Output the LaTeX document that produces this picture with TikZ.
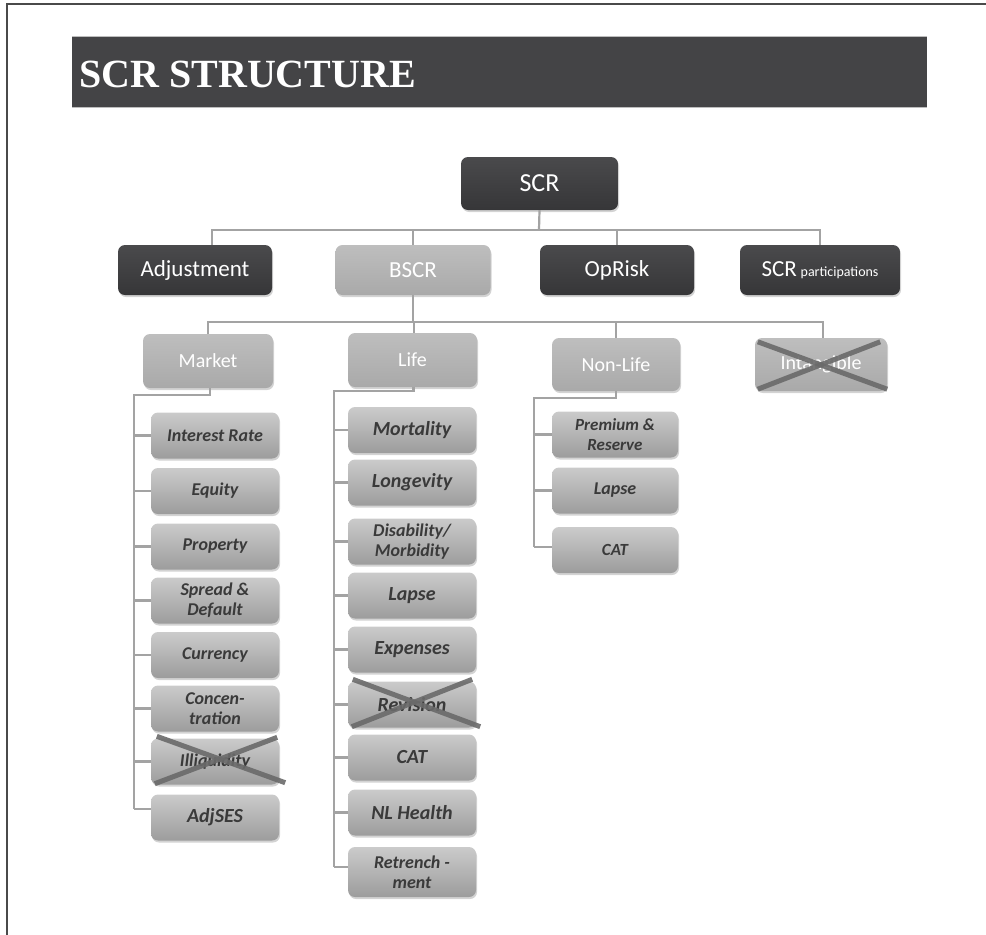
\documentclass[tikz,border=0pt]{standalone}
\usepackage{fontspec}
\setmainfont{Carlito}
\newfontfamily\hdrfont{Liberation Serif}
\usetikzlibrary{shadows}
\definecolor{framec}{HTML}{4A4A4A}
\definecolor{hdrc}{HTML}{444446}
\definecolor{hdredge}{HTML}{BDBDBD}
\definecolor{conc}{HTML}{A3A3A3}
\definecolor{crossc}{HTML}{6A6A6A}
\definecolor{darktop}{HTML}{4A4A4C}
\definecolor{darkbot}{HTML}{363638}
\definecolor{ltop}{HTML}{BEBEBE}
\definecolor{lbot}{HTML}{A9A9A9}
\definecolor{ctop}{HTML}{CBCBCB}
\definecolor{cbot}{HTML}{9C9C9C}
\definecolor{ctext}{HTML}{3A3A3A}
\begin{document}
\begin{tikzpicture}[x=1pt,y=-1pt,
  base/.style={rounded corners=7pt, inner sep=0pt, align=center,
    drop shadow={opacity=0.35, shadow xshift=1pt, shadow yshift=-2pt}},
  dbox/.style={base, top color=darktop, bottom color=darkbot, text=white,
    minimum width=155pt, minimum height=50pt, font=\fontsize{23}{26}\selectfont},
  bbox/.style={base, top color=ltop, bottom color=lbot, text=white,
    minimum width=155pt, minimum height=50pt, font=\fontsize{23}{26}\selectfont},
  lbox/.style={base, top color=ltop, bottom color=lbot, text=white,
    minimum width=130pt, minimum height=54pt, font=\fontsize{20}{22}\selectfont},
  cbox/.style={base, top color=ctop, bottom color=cbot, text=ctext,
    minimum width=128pt, minimum height=46pt, font=\bfseries\itshape\fontsize{18}{20}\selectfont},
  cboxl/.style={cbox, font=\bfseries\itshape\fontsize{20}{21}\selectfont},
  conn/.style={draw=conc, line width=2.2pt},
  xcross/.style={draw=crossc, line width=5pt, opacity=0.9}
]
\useasboundingbox (0,0) rectangle (986,935);
% frame
\draw[framec, line width=2pt] (6.5,935) -- (6.5,4) -- (986,4);
% header
\fill[hdrc] (72,36) rectangle (927,107);
\draw[hdredge, line width=1pt] (72,36) -- (927,36);
\draw[hdredge, line width=1pt] (72,107) -- (927,107);
\node[anchor=base west, inner sep=0pt, text=white,
  font=\hdrfont\bfseries\fontsize{40}{42}\selectfont] (title) at (79,87) {SCR STRUCTURE};

% level 1
\node[dbox, minimum width=157pt, minimum height=53pt, font=\fontsize{26}{28}\selectfont] (scr) at (539.5,183.5) {SCR};
% level 2
\node[dbox, minimum width=154pt] (adj) at (195,270) {Adjustment};
\node[bbox] (bscr) at (413,270) {BSCR};
\node[dbox, minimum width=154pt] (oprisk) at (617,270) {OpRisk};
\node[dbox, minimum width=160pt] (part) at (820,270) {SCR\,{\fontsize{14}{14}\selectfont participations}};
% level 3
\node[lbox] (market) at (208,361) {Market};
\node[lbox, minimum width=129pt] (life) at (412.5,360) {Life};
\node[lbox, minimum width=128pt, minimum height=53pt] (nonlife) at (616,364.5) {Non-Life};
\node[lbox, minimum width=132pt, minimum height=53pt] (intang) at (821,364.5) {Intangible};

% market children
\node[cbox] (ir)   at (215,435.5) {Interest Rate};
\node[cbox] (eq)   at (215,491)   {Equity};
\node[cbox] (prop) at (215,546.5) {Property};
\node[cbox] (spr)  at (215,600.5) {Spread \&\\Default};
\node[cbox] (cur)  at (215,655)   {Currency};
\node[cbox] (conc) at (215,708.5) {Concen-\\tration};
\node[cbox] (ill)  at (215,761.5) {Illiquidity};
\node[cbox, font=\bfseries\itshape\fontsize{20}{21}\selectfont] (adjses) at (215,817.5) {AdjSES};

% life children
\node[cboxl] (mort) at (412,430)   {Mortality};
\node[cboxl] (long) at (412,482.5) {Longevity};
\node[cbox]  (dis)  at (412,541.5) {Disability/\\Morbidity};
\node[cboxl] (lap)  at (412,595.5) {Lapse};
\node[cboxl] (exp)  at (412,649.5) {Expenses};
\node[cboxl] (rev)  at (412,704.5) {Revision};
\node[cboxl] (cat)  at (412,757.5) {CAT};
\node[cboxl] (nlh)  at (412,812.5) {NL Health};
\node[cbox, minimum height=50pt] (ret) at (412,872) {Retrench -\\ment};

% non-life children
\node[cbox, minimum width=126pt, font=\bfseries\itshape\fontsize{17}{20}\selectfont] (pr) at (615,434.5) {Premium \&\\Reserve};
\node[cbox, minimum width=126pt] (nlap) at (615,490.5) {Lapse};
\node[cbox, minimum width=126pt, font=\bfseries\itshape\fontsize{17}{20}\selectfont] (ncat) at (615,550) {CAT};

% connectors level 1 -> 2
\coordinate (bar1) at (539,230);
\draw[conn] (scr.south) -- (bar1);
\coordinate (adjtop) at (212,245);
\draw[conn] (adjtop) |- (part.north |- bar1) -- (part.north);
\draw[conn] (bscr.north) -- (bscr.north |- bar1);
\draw[conn] (oprisk.north) -- (oprisk.north |- bar1);

% connectors level 2 -> 3
\coordinate (bar2) at (413,322);
\draw[conn] (bscr.south) -- (bar2);
\draw[conn] (market.north) |- ([xshift=2pt]intang.north |- bar2) -- ([xshift=2pt]intang.north);
\draw[conn] ([xshift=1.5pt]life.north) -- ([xshift=1.5pt]life.north |- bar2);
\draw[conn] (nonlife.north) -- (nonlife.north |- bar2);

% market trunk
\coordinate (mtop) at (134,395);
\coordinate (mbot) at (134,809);
\draw[conn] ([xshift=2pt]market.south) |- (mtop) -- (mbot);
\foreach \n in {ir,eq,prop,spr,cur,conc,ill}{\draw[conn] (\n.west) -- (\n.west -| mtop);}
\draw[conn] (mbot) -- (mbot -| adjses.west);

% life trunk
\coordinate (ltop) at (334,391);
\coordinate (lbot) at (334,867);
\draw[conn] ([xshift=1pt]life.south) |- (ltop) -- (lbot);
\foreach \n in {mort,long,dis,lap,exp,rev,cat,nlh}{\draw[conn] (\n.west) -- (\n.west -| ltop);}
\draw[conn] (lbot) -- (lbot -| ret.west);

% non-life trunk
\coordinate (ntop) at (534,398);
\coordinate (nbot) at (534,547);
\draw[conn] (nonlife.south) |- (ntop) -- (nbot);
\foreach \n in {pr,nlap}{\draw[conn] (\n.west) -- (\n.west -| ntop);}
\draw[conn] (nbot) -- (nbot -| ncat.west);

% crosses
\draw[xcross] ([shift={(6,-2)}]ill.north west) -- ([shift={(6,-2)}]ill.south east);
\draw[xcross] ([shift={(4,-1)}]ill.south west) -- ([shift={(-2,-1)}]ill.north east);
\draw[xcross] ([shift={(5,-2)}]rev.north west) -- ([shift={(4,-1)}]rev.south east);
\draw[xcross] ([shift={(4,-1)}]rev.south west) -- ([shift={(-4,-2)}]rev.north east);
\draw[xcross] ([shift={(3,4)}]intang.north west) -- ([shift={(0,-2)}]intang.south east);
\draw[xcross] ([shift={(3,-2)}]intang.south west) -- ([shift={(-7,4)}]intang.north east);
\end{tikzpicture}
\end{document}
